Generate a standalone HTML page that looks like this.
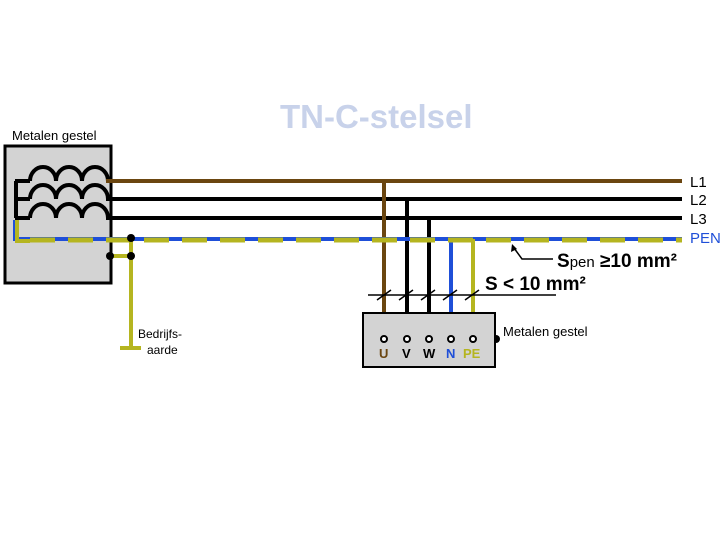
<!DOCTYPE html>
<html><head><style>
body{margin:0;background:#fff}
svg{display:block;font-family:"Liberation Sans",sans-serif}
</style></head><body>
<svg width="720" height="540" viewBox="0 0 720 540">
<text x="280" y="128" font-size="33" fill="#c8d2ea" font-weight="bold">TN-C-stelsel</text>
<text x="12" y="140" font-size="13">Metalen gestel</text>
<rect x="5" y="146" width="106" height="137" fill="#d3d3d3" stroke="#000" stroke-width="3"/>
<g fill="none" stroke="#000" stroke-width="4">
<path d="M15 181 H30 M15 199 H30 M15 218 H30 M16 181 V218"/>
<path d="M30 181 a13 14 0 0 1 26 0 a13 14 0 0 1 26 0 a13 14 0 0 1 26 0 M30 199 a13 14 0 0 1 26 0 a13 14 0 0 1 26 0 a13 14 0 0 1 26 0 M30 218 a13 14 0 0 1 26 0 a13 14 0 0 1 26 0 a13 14 0 0 1 26 0"/>
<path d="M106 199 H682 M106 218 H682"/>
<path d="M407 199 V339 M429 218 V339"/>
</g>
<g fill="none">
<path d="M106 181 H682 M384 181 V339" stroke="#6b4610" stroke-width="4"/>
<path d="M15 220 V239 H682 M451 239 V339" stroke="#1f4fd8" stroke-width="4"/>
<path d="M17 220 V241 H30" stroke="#b5b520" stroke-width="4"/>
<path d="M30 240 H682" stroke="#b5b520" stroke-width="5" stroke-dasharray="25 13"/>
<path d="M131 239 V348 M110 256 H131 M120 348 H141 M473 239 V339 H496" stroke="#b5b520" stroke-width="4"/>
</g>
<g fill="#000"><circle cx="131" cy="238" r="4"/><circle cx="131" cy="256" r="4"/><circle cx="110" cy="256" r="4"/><circle cx="496" cy="339" r="4"/></g>
<text x="138" y="338" font-size="12">Bedrijfs-</text><text x="147" y="354" font-size="12">aarde</text>
<rect x="363" y="313" width="132" height="54" fill="#d3d3d3" stroke="#000" stroke-width="2"/>
<g fill="#fff" stroke="#000" stroke-width="2"><circle cx="384" cy="339" r="3"/><circle cx="407" cy="339" r="3"/><circle cx="429" cy="339" r="3"/><circle cx="451" cy="339" r="3"/><circle cx="473" cy="339" r="3"/></g>
<g font-size="13" font-weight="bold"><text x="379" y="358" fill="#6b4610">U</text><text x="402" y="358">V</text><text x="423" y="358">W</text><text x="446" y="358" fill="#1f4fd8">N</text><text x="463" y="358" fill="#b5b520">PE</text></g>
<text x="503" y="336" font-size="13">Metalen gestel</text>
<path d="M368 295 H556" stroke="#000" stroke-width="1.5"/>
<g stroke="#000" stroke-width="1.5"><path d="M377 300 L391 290 M399 300 L413 290 M421 300 L435 290 M443 300 L457 290 M465 300 L479 290"/></g>
<text x="485" y="290" font-size="19" font-weight="bold">S &lt; 10 mm²</text>
<path d="M553 259 H522 L514 248" stroke="#000" stroke-width="1.5" fill="none"/>
<path d="M512 244 l-1 8 l6 -3z" fill="#000"/>
<text x="557" y="267" font-size="19" font-weight="bold">S<tspan font-size="15" font-weight="normal">pen</tspan> ≥10 mm²</text>
<g font-size="15"><text x="690" y="187">L1</text><text x="690" y="205">L2</text><text x="690" y="224">L3</text><text x="690" y="243" fill="#1f4fd8">PEN</text></g>
</svg>
</body></html>
